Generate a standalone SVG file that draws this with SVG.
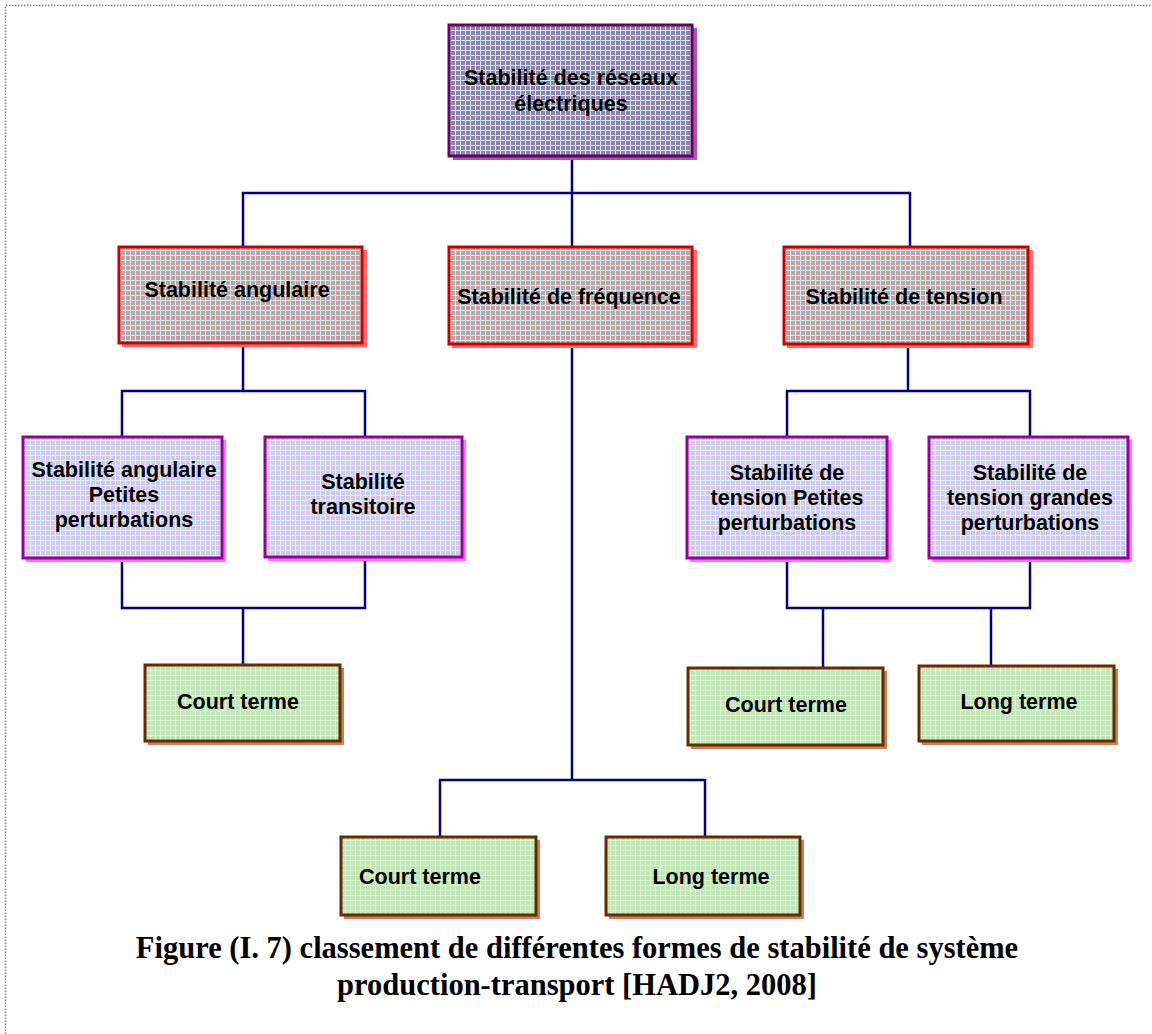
<svg xmlns="http://www.w3.org/2000/svg" width="1152" height="1034" viewBox="0 0 1152 1034">
  <defs>
    <!-- woven grid fills -->
    <pattern id="gridPurple" width="5" height="5" patternUnits="userSpaceOnUse">
      <rect width="5" height="5" fill="#9680ac"/>
      <path d="M0 0.5H5M0.5 0V5" stroke="#c6ecf0" stroke-width="1"/>
    </pattern>
    <pattern id="gridRed" width="5" height="5" patternUnits="userSpaceOnUse">
      <rect width="5" height="5" fill="#c4a2a4"/>
      <path d="M0 0.5H5M0.5 0V5" stroke="#cdeef0" stroke-width="1"/>
    </pattern>
    <pattern id="gridLilac" width="5" height="5" patternUnits="userSpaceOnUse">
      <rect width="5" height="5" fill="#d6c6ee"/>
      <path d="M0 0.5H5M0.5 0V5" stroke="#d8f4f8" stroke-width="1"/>
    </pattern>
    <pattern id="gridGreen" width="5" height="5" patternUnits="userSpaceOnUse">
      <rect width="5" height="5" fill="#bfe6b4"/>
      <path d="M0 0.5H5M0.5 0V5" stroke="#d6f4d0" stroke-width="1"/>
    </pattern>
  </defs>
  <style>
    .lbl { font-family: "Liberation Sans", Arial, sans-serif; font-weight: bold; font-size: 21.5px; fill: #000; text-anchor: middle; }
    .cap { font-family: "Liberation Serif", "Times New Roman", serif; font-weight: bold; font-size: 30.5px; fill: #000; text-anchor: middle; }
    .wire { fill: none; stroke: #000080; stroke-width: 2.5; }
    .frame { fill: none; stroke: #8a8a8a; stroke-width: 1.5; stroke-dasharray: 1.5 1.5; }
    .root .sh { fill: #b050b8; }
    .root .bx { fill: url(#gridPurple); stroke: #660066; stroke-width: 3; }
    .l2 .sh { fill: #ff6a6a; }
    .l2 .bx { fill: url(#gridRed); stroke: #cc0000; stroke-width: 3; }
    .l3 .sh { fill: #ff70ff; }
    .l3 .bx { fill: url(#gridLilac); stroke: #990099; stroke-width: 3; }
    .l4 .sh { fill: #c88060; }
    .l4 .bx { fill: url(#gridGreen); stroke: #6a2a00; stroke-width: 3; }
  </style>

  <rect width="1152" height="1034" fill="#ffffff"/>
  <!-- page frame -->
  <path class="frame" d="M5.5 1034V5.5H1152"/>

  <!-- connectors -->
  <g id="connectors">
    <path class="wire" d="M572 157V193M243 247V193H910V247M572 193V247"/>
    <path class="wire" d="M243 344V391M122 436V391H365V436"/>
    <path class="wire" d="M122 560V608H365V558M243 608V664"/>
    <path class="wire" d="M572 346V780M440 836V780H705V836"/>
    <path class="wire" d="M908 346V391M787 436V391H1030V436"/>
    <path class="wire" d="M787 560V608H1030V560M823 608V668M991 608V666"/>
  </g>

  <!-- root -->
  <g id="n-root" class="root">
    <rect class="sh" x="453" y="28" width="244" height="132"/>
    <rect class="bx" x="449" y="25" width="243" height="131"/>
    <text class="lbl" x="571" y="85">Stabilité des réseaux</text>
    <text class="lbl" x="571" y="111">électriques</text>
  </g>

  <!-- second level -->
  <g id="n-angulaire" class="l2">
    <rect class="sh" x="122" y="250" width="245" height="97"/>
    <rect class="bx" x="119" y="247" width="243" height="96"/>
    <text class="lbl" x="237" y="297">Stabilité angulaire</text>
  </g>
  <g id="n-frequence" class="l2">
    <rect class="sh" x="452" y="250" width="245" height="98"/>
    <rect class="bx" x="449" y="247" width="243" height="97"/>
    <text class="lbl" x="569" y="304">Stabilité de fréquence</text>
  </g>
  <g id="n-tension" class="l2">
    <rect class="sh" x="787" y="250" width="246" height="98"/>
    <rect class="bx" x="784" y="247" width="244" height="97"/>
    <text class="lbl" x="904" y="304">Stabilité de tension</text>
  </g>

  <!-- third level -->
  <g id="n-ang-petites" class="l3">
    <rect class="sh" x="26" y="440" width="200" height="122"/>
    <rect class="bx" x="23" y="437" width="199" height="121"/>
    <text class="lbl" x="124" y="477">Stabilité angulaire</text>
    <text class="lbl" x="124" y="502">Petites</text>
    <text class="lbl" x="124" y="527">perturbations</text>
  </g>
  <g id="n-transitoire" class="l3">
    <rect class="sh" x="268" y="440" width="198" height="121"/>
    <rect class="bx" x="265" y="437" width="197" height="120"/>
    <text class="lbl" x="363" y="489">Stabilité</text>
    <text class="lbl" x="363" y="514">transitoire</text>
  </g>
  <g id="n-ten-petites" class="l3">
    <rect class="sh" x="690" y="440" width="201" height="122"/>
    <rect class="bx" x="687" y="437" width="200" height="121"/>
    <text class="lbl" x="787" y="480">Stabilité de</text>
    <text class="lbl" x="787" y="505">tension Petites</text>
    <text class="lbl" x="787" y="530">perturbations</text>
  </g>
  <g id="n-ten-grandes" class="l3">
    <rect class="sh" x="932" y="440" width="200" height="122"/>
    <rect class="bx" x="929" y="437" width="199" height="121"/>
    <text class="lbl" x="1030" y="480">Stabilité de</text>
    <text class="lbl" x="1030" y="505">tension grandes</text>
    <text class="lbl" x="1030" y="530">perturbations</text>
  </g>

  <!-- terms -->
  <g id="n-court-ang" class="l4">
    <rect class="sh" x="148" y="668" width="196" height="77"/>
    <rect class="bx" x="145" y="665" width="195" height="76"/>
    <text class="lbl" x="238" y="709">Court terme</text>
  </g>
  <g id="n-court-ten" class="l4">
    <rect class="sh" x="691" y="671" width="196" height="78"/>
    <rect class="bx" x="688" y="668" width="195" height="77"/>
    <text class="lbl" x="786" y="712">Court terme</text>
  </g>
  <g id="n-long-ten" class="l4">
    <rect class="sh" x="922" y="669" width="196" height="76"/>
    <rect class="bx" x="919" y="666" width="195" height="75"/>
    <text class="lbl" x="1019" y="709">Long terme</text>
  </g>
  <g id="n-court-freq" class="l4">
    <rect class="sh" x="344" y="840" width="196" height="79"/>
    <rect class="bx" x="341" y="837" width="195" height="78"/>
    <text class="lbl" x="420" y="884">Court terme</text>
  </g>
  <g id="n-long-freq" class="l4">
    <rect class="sh" x="609" y="840" width="195" height="79"/>
    <rect class="bx" x="606" y="837" width="194" height="78"/>
    <text class="lbl" x="711" y="884">Long terme</text>
  </g>

  <!-- caption -->
  <text class="cap" x="577" y="958">Figure (I. 7) classement de différentes formes de stabilité de système</text>
  <text class="cap" x="577" y="995">production-transport [HADJ2, 2008]</text>
</svg>
